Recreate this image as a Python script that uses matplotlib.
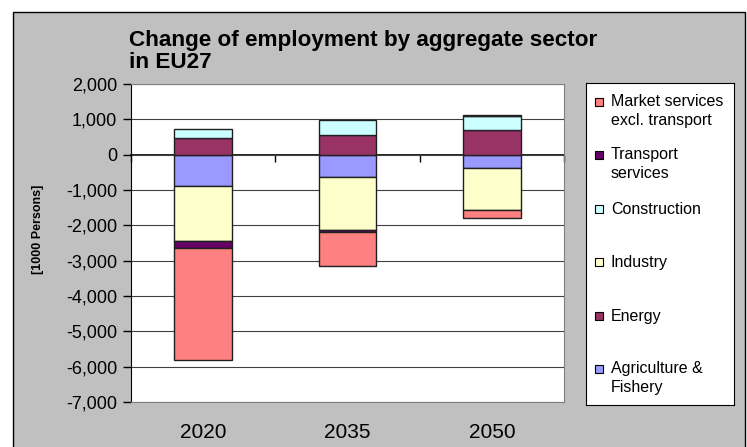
"""Stacked change of employment by sector in EU27 (Excel-style chart)."""

import matplotlib

matplotlib.use("Agg")
from matplotlib import pyplot as plt
from matplotlib.patches import Rectangle
from matplotlib.ticker import FuncFormatter

years = ["2020", "2035", "2050"]
sectors = [
    "Agriculture &\nFishery",
    "Energy",
    "Industry",
    "Construction",
    "Transport\nservices",
    "Market services\nexcl. transport",
]
agriculture = [-877, -642, -377]
energy = [462, 566, 708]
industry = [-1557, -1490, -1198]
construction = [274, 425, 377]
transport = [-208, -66, 38]
market = [-3179, -944, -227]
colors = ["#9999FF", "#993366", "#FFFFCC", "#CCFFFF", "#660066", "#FF8080"]

W, H = 747, 447
plt.rcParams["font.family"] = ["Liberation Sans", "DejaVu Sans"]


def fx(px):
    return px / W


def fy(py):
    return 1 - py / H


fig = plt.figure(figsize=(W / 100, H / 100), dpi=100)
fig.patch.set_facecolor("white")
fig.patches.append(
    Rectangle((fx(13), fy(470)), fx(745) - fx(13), fy(12) - fy(470),
              transform=fig.transFigure, facecolor="#C0C0C0",
              edgecolor="black", linewidth=1, zorder=-10)
)

ax = fig.add_axes([fx(131), fy(402), fx(564) - fx(131), fy(84) - fy(402)])
ax.set_facecolor("white")

series = [agriculture, energy, industry, construction, transport, market]
x = list(range(len(years)))
pos_base = [0] * len(years)
neg_base = [0] * len(years)
for vals, col in zip(series, colors):
    bottoms = []
    for i, v in enumerate(vals):
        if v >= 0:
            bottoms.append(pos_base[i])
            pos_base[i] += v
        else:
            bottoms.append(neg_base[i])
            neg_base[i] += v
    ax.bar(x, vals, width=0.4, bottom=bottoms, color=col,
           edgecolor="#202020", linewidth=1, zorder=3)

ax.set_xlim(-0.5, len(years) - 0.5)
ax.set_ylim(-7000, 2000)
ax.set_yticks(range(-7000, 2001, 1000))
ax.yaxis.set_major_formatter(FuncFormatter(lambda v, _: f"{v:,.0f}"))
ax.yaxis.grid(True, color="#404040", linewidth=0.8)
ax.set_axisbelow(True)
ax.tick_params(axis="y", direction="out", length=6, width=1, color="black",
               labelsize=13, pad=4)
ax.set_xticks(x)
ax.set_xticklabels(years)
ax.tick_params(axis="x", length=0, labelsize=15, pad=15)
for side in ["top", "right", "bottom"]:
    ax.spines[side].set_color("#808080")
ax.spines["left"].set_color("black")

# category axis crossing at zero, ticks between categories pointing down
sec = ax.secondary_xaxis(7 / 9)
sec.set_alignment("bottom")
sec.set_xticks([i - 0.5 for i in range(len(years) + 1)])
sec.set_xticklabels([])
sec.tick_params(axis="x", direction="out", length=5, width=1, color="black")
sec.spines["bottom"].set_color("black")
sec.spines["bottom"].set_linewidth(1.2)

fig.text(fx(38), fy(229), "[1000 Persons]", rotation=90, ha="center",
         va="center", fontsize=9, fontweight="bold")
# va="baseline" pins the last line, so place it at the "in EU27" baseline
fig.text(fx(129), fy(68), "Change of employment by aggregate sector\nin EU27",
         ha="left", va="baseline", fontsize=16.2, fontweight="bold",
         linespacing=1.05)

# legend box drawn like the Excel one
lax = fig.add_axes([fx(586), fy(405), fx(734) - fx(586), fy(83) - fy(405)])
lax.set_xlim(0, 148)
lax.set_ylim(322, 0)
lax.set_xticks([])
lax.set_yticks([])
for sp in lax.spines.values():
    sp.set_color("black")
for k, (name, col) in enumerate(zip(sectors[::-1], colors[::-1])):
    yc = 19 + 53.4 * k
    lax.add_patch(Rectangle((9, yc - 4), 8, 8, facecolor=col,
                            edgecolor="black", linewidth=0.8))
    extra = name.count("\n")
    lax.text(25, yc + 5 + 17.7 * extra, name, ha="left", va="baseline",
             fontsize=11.5, linespacing=1.3)

fig.savefig("out.png", dpi=100)
